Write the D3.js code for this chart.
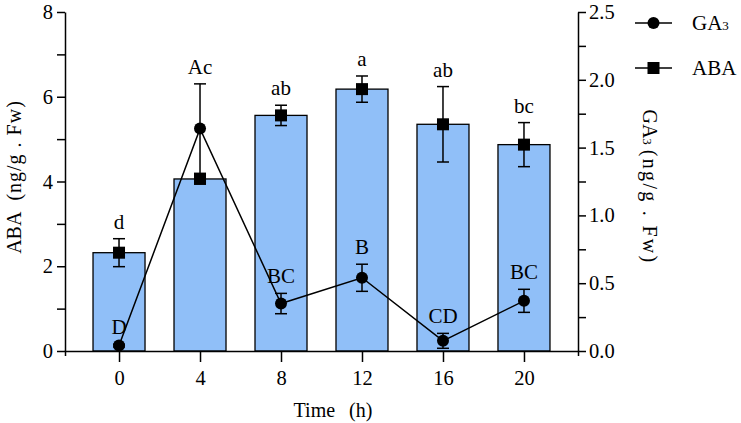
<!DOCTYPE html>
<html>
<head>
<meta charset="utf-8">
<script src="https://cdn.jsdelivr.net/npm/d3@7"></script>
<style>
  body { margin: 0; background: #fff; }
  svg { display: block; font-family: "Liberation Serif", "Times New Roman", serif; }
</style>
</head>
<body>
<svg id="chart" width="741" height="423"></svg>
<script>
const times = ['0', '4', '8', '12', '16', '20']
const abaValues = [2.32, 4.06, 5.56, 6.18, 5.35, 4.87]
const abaErrors = [0.33, 0.08, 0.24, 0.31, 0.89, 0.52]
const abaLetters = ['d', 'Ac', 'ab', 'a', 'ab', 'bc']
const ga3Values = [0.04, 1.64, 0.35, 0.54, 0.075, 0.37]
const ga3Errors = [0.01, 0.33, 0.075, 0.1, 0.055, 0.085]
const ga3Letters = ['D', '', 'BC', 'B', 'CD', 'BC']
const abaTicks = [0, 2, 4, 6, 8]
const ga3Ticks = [0, 0.5, 1.0, 1.5, 2.0, 2.5]

const svg = d3.select('#chart')
const plotLeft = 65, plotRight = 578, plotTop = 12, plotBottom = 351

const x = d3.scalePoint().domain(times).range([plotLeft, plotRight]).padding(0.667)
const yL = d3.scaleLinear().domain([0, 8]).range([plotBottom, plotTop])
const yR = d3.scaleLinear().domain([0, 2.5]).range([plotBottom, plotTop])
const barW = 52
const fontSize = 21

// bars
svg.append('g').selectAll('rect')
    .data(times)
    .enter().append('rect')
    .attr('x', d => x(d) - barW / 2)
    .attr('y', (d, i) => yL(abaValues[i]))
    .attr('width', barW)
    .attr('height', (d, i) => plotBottom - yL(abaValues[i]))
    .attr('fill', '#90bff8')
    .attr('stroke', '#000')
    .attr('stroke-width', 1.3)

function errorBars(g, scale, vals, errs) {
    times.forEach((t, i) => {
        const cx = x(t), hi = scale(vals[i] + errs[i]), lo = scale(vals[i] - errs[i])
        g.append('line').attr('x1', cx).attr('x2', cx).attr('y1', hi).attr('y2', lo)
        g.append('line').attr('x1', cx - 6).attr('x2', cx + 6).attr('y1', hi).attr('y2', hi)
        g.append('line').attr('x1', cx - 6).attr('x2', cx + 6).attr('y1', lo).attr('y2', lo)
    })
    g.attr('stroke', '#000').attr('stroke-width', 1.5)
}

errorBars(svg.append('g'), yL, abaValues, abaErrors)

// GA3 line
const line = d3.line().x((d, i) => x(times[i])).y(d => yR(d))
svg.append('path')
    .datum(ga3Values)
    .attr('d', line)
    .attr('fill', 'none')
    .attr('stroke', '#000')
    .attr('stroke-width', 1.5)

errorBars(svg.append('g'), yR, ga3Values, ga3Errors)

svg.append('g').selectAll('circle')
    .data(ga3Values)
    .enter().append('circle')
    .attr('cx', (d, i) => x(times[i]))
    .attr('cy', d => yR(d))
    .attr('r', 6)
    .attr('fill', '#000')

svg.append('g').selectAll('rect')
    .data(abaValues)
    .enter().append('rect')
    .attr('x', (d, i) => x(times[i]) - 6)
    .attr('y', d => yL(d) - 6)
    .attr('width', 12)
    .attr('height', 12)
    .attr('fill', '#000')

// significance letters, placed above the higher of the two error bars where they share
function abaTop(i) {
    const a = yL(abaValues[i] + abaErrors[i])
    return ga3Letters[i] === '' ? Math.min(a, yR(ga3Values[i] + ga3Errors[i])) : a
}
svg.append('g').selectAll('text')
    .data(abaLetters)
    .enter().append('text')
    .attr('x', (d, i) => x(times[i]))
    .attr('y', (d, i) => abaTop(i) - 10)
    .attr('text-anchor', 'middle')
    .attr('font-size', fontSize)
    .text(d => d)

svg.append('g').selectAll('text')
    .data(ga3Letters)
    .enter().append('text')
    .attr('x', (d, i) => x(times[i]))
    .attr('y', (d, i) => yR(ga3Values[i] + ga3Errors[i]) - 10)
    .attr('text-anchor', 'middle')
    .attr('font-size', fontSize)
    .text(d => d)

// axes
const axL = svg.append('g').attr('transform', `translate(${plotLeft},0)`)
    .call(d3.axisLeft(yL).tickValues(d3.range(0, 8.1, 1)).tickSize(8).tickSizeOuter(0)
        .tickFormat(d => abaTicks.includes(d) ? d : ''))
const axR = svg.append('g').attr('transform', `translate(${plotRight},0)`)
    .call(d3.axisRight(yR).tickValues(d3.range(0, 2.51, 0.25)).tickSize(8).tickSizeOuter(0)
        .tickFormat(d => ga3Ticks.some(t => Math.abs(t - d) < 1e-6) ? d3.format('.1f')(d) : ''))
const axB = svg.append('g').attr('transform', `translate(0,${plotBottom})`)
    .call(d3.axisBottom(x).tickSize(11).tickSizeOuter(5))

;[axL, axR, axB].forEach(a => {
    a.selectAll('path, line').attr('stroke', '#000').attr('stroke-width', 1.5)
    a.selectAll('text').attr('font-size', 20.5).attr('fill', '#000')
        .attr('font-family', '"Liberation Serif", "Times New Roman", serif')
})
axL.selectAll('text').attr('x', -12).attr('dy', '0.32em')
axR.selectAll('text').attr('x', 11).attr('dy', '0.32em')
axB.selectAll('text').attr('y', 19)

// axis titles
const lt = svg.append('text')
    .attr('transform', 'translate(21,177) rotate(-90)')
    .attr('text-anchor', 'middle')
    .attr('font-size', 20)
lt.append('tspan').text('ABA')
lt.append('tspan').attr('dx', 11).style('letter-spacing', '1px').text('(ng/g . Fw)')

const rt = svg.append('text')
    .attr('transform', 'translate(643,187) rotate(90)')
    .attr('text-anchor', 'middle')
    .attr('font-size', 20)
rt.append('tspan').text('GA')
rt.append('tspan').attr('font-size', 13).text('3')
rt.append('tspan').attr('dx', 5).style('letter-spacing', '2.3px').text('(ng/g . Fw)')

const tt = svg.append('text')
    .attr('x', 333)
    .attr('y', 417)
    .attr('text-anchor', 'middle')
    .attr('font-size', 20)
tt.append('tspan').text('Time')
tt.append('tspan').attr('dx', 14).text('(h)')

// legend
const legend = svg.append('g').attr('transform', 'translate(635,0)')
legend.append('line').attr('x1', 0).attr('x2', 37).attr('y1', 23).attr('y2', 23)
    .attr('stroke', '#000').attr('stroke-width', 1.5)
legend.append('circle').attr('cx', 18.5).attr('cy', 23).attr('r', 6)
legend.append('line').attr('x1', 0).attr('x2', 37).attr('y1', 68).attr('y2', 68)
    .attr('stroke', '#000').attr('stroke-width', 1.5)
legend.append('rect').attr('x', 12.5).attr('y', 62).attr('width', 12).attr('height', 12)
const lg1 = legend.append('text').attr('x', 57).attr('y', 30).attr('font-size', 21)
lg1.append('tspan').text('GA')
lg1.append('tspan').attr('font-size', 13).text('3')
legend.append('text').attr('x', 57).attr('y', 75).attr('font-size', 21).text('ABA')
</script>
</body>
</html>
